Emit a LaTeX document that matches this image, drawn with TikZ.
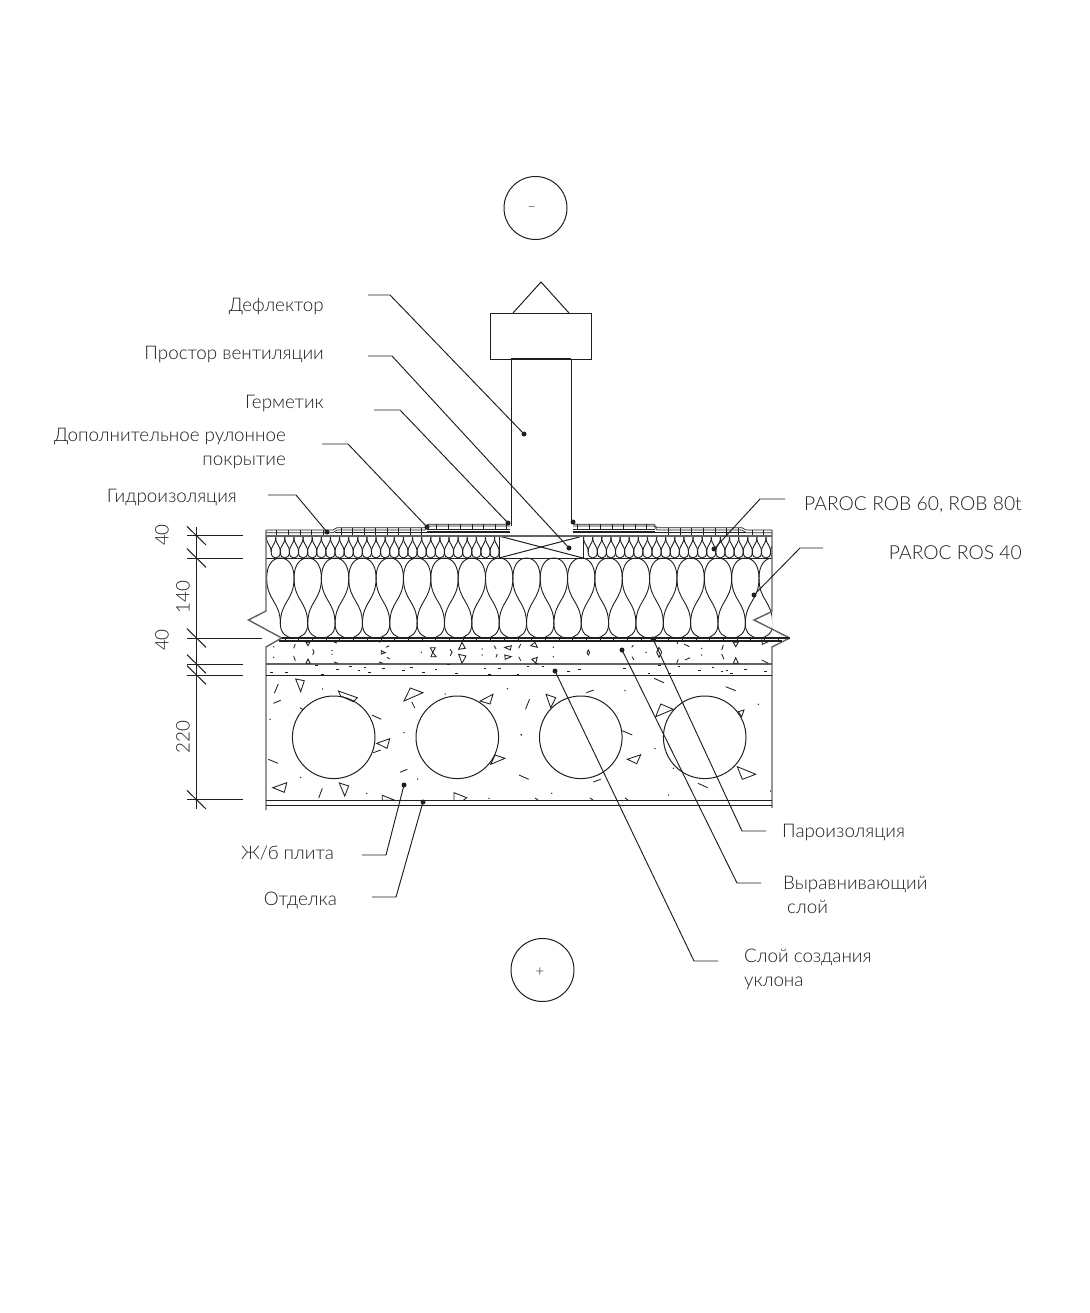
\documentclass[tikz,border=0pt]{standalone}
\usepackage{fontspec}
\setmainfont{Lato Light}
\usetikzlibrary{positioning,calc}
\colorlet{wallgray}{black!62}
\definecolor{ink}{gray}{0.12}

% one row of batt insulation: x0, period, count, ytop, yupper, ylower, ybottom
\newcommand{\battrow}[7]{%
\foreach \n in {1,...,#3} {
\pgfmathsetmacro{\xa}{#1+#2*(\n-1)}
\pgfmathsetmacro{\xm}{\xa+0.5*#2}
\pgfmathsetmacro{\xb}{\xa+#2}
\pgfmathsetmacro{\xc}{\xa+1.5*#2}
\draw[batt] (\xa,#5) .. controls (\xa,{#5-0.62*(#5-#4)}) and ({\xa+0.2*#2},#4) .. (\xm,#4) .. controls ({\xb-0.2*#2},#4) and (\xb,{#5-0.62*(#5-#4)}) .. (\xb,#5);
\draw[batt] (\xa,#5) .. controls (\xa,{#5+0.5*(#6-#5)}) and (\xm,{#6-0.5*(#6-#5)}) .. (\xm,#6);
\draw[batt] (\xb,#5) .. controls (\xb,{#5+0.5*(#6-#5)}) and (\xm,{#6-0.5*(#6-#5)}) .. (\xm,#6);
\draw[batt] (\xm,#6) .. controls (\xm,{#6+0.62*(#7-#6)}) and ({\xm+0.2*#2},#7) .. (\xb,#7) .. controls ({\xc-0.2*#2},#7) and (\xc,{#6+0.62*(#7-#6)}) .. (\xc,#6);
}}

\begin{document}
\begin{tikzpicture}[x=1pt,y=-1pt,
line/.style={draw=ink, line width=1pt},
batt/.style={line, line width=0.9pt},
wall/.style={draw=wallgray, line width=1.4pt},
heavy/.style={draw=wallgray, line width=1.8pt},
thin/.style={draw=ink, line width=0.65pt},
debris/.style={draw=ink, line width=0.85pt, line join=miter},
label/.style={font=\fontsize{18.8}{22}\selectfont, text=ink, inner sep=0pt},
latin/.style={font=\fontsize{19.3}{22}\selectfont, text=ink, inner sep=0pt},
size/.style={font=\fontsize{18.8}{22}\selectfont, text=ink, inner sep=0pt, rotate=90},
axis/.style={circle, draw=ink, line width=1pt, minimum size=63pt, inner sep=0pt},
sign/.style={font=\fontsize{15}{16}\selectfont, text=ink, inner sep=0pt},
leader/.style={draw=ink, line width=0.95pt},
dot/.style={circle, fill=ink, minimum size=5pt, inner sep=0pt}]

\path[use as bounding box] (0,0) rectangle (1089,1313);

% AXIS MARKS

\node [axis] (axistop) at (535.5,208) {};
\node [sign] (signtop) at (531.7,209.5) {--};
\node [axis] (axisbottom) at (542.5,970) {};
\node [sign] (signbottom) at (540,972.5) {+};

% DEFLECTOR

\draw[line] (513,313) -- (541,282) -- (569,313);
\draw[line] (490,313) rectangle (591.5,359);
\draw[line] (511,526) -- (511,359);
\draw[line] (571,523) -- (571,359);
\draw[line, line width=1.4pt] (511,359) -- (571,359);

% VENT BOX

\draw[line] (499,536) -- (499,558);
\draw[line] (583,536) -- (583,558);
\draw[line] (499,536) -- (583,558);
\draw[line] (499,558) -- (583,536);

% INSULATION

\begin{scope}
\clip (266,536) rectangle (499,559);
\battrow{266.6}{9.12}{26}{534}{537.5}{552}{558}
\end{scope}
\begin{scope}
\clip (583,536) rectangle (772,559);
\battrow{583.6}{9.12}{21}{534}{537.5}{552}{558}
\end{scope}
\begin{scope}
\clip (266,556) rectangle (772,640);
\battrow{266.7}{27.35}{19}{558}{578}{624}{638}
\end{scope}
\draw[line] (266,558) -- (772,558);

% ROOFING

\draw[thin] (266,530) -- (333,530) -- (337,527.7) -- (425,527.7) -- (428,524.3) -- (510,524.3);
\draw[thin] (266,532.7) -- (333,532.7) -- (337,530) -- (425,530) -- (428,526) -- (510,526);
\draw[thin] (335,532.7) -- (510,532.7);
\draw[line, line width=1.5pt] (427,529.3) -- (510,529.3);
\draw[thin] (427,531) -- (510,531);
\draw[thin] (772,530) -- (746,530) -- (742,527.7) -- (657,527.7) -- (654,524.3) -- (573,524.3);
\draw[thin] (772,532.7) -- (746,532.7) -- (742,530) -- (657,530) -- (654,526) -- (573,526);
\draw[thin] (746,532.7) -- (573,532.7);
\draw[line, line width=1.5pt] (655,529.3) -- (573,529.3);
\draw[thin] (655,531) -- (573,531);
\draw[heavy] (266,536) -- (772,536);
\foreach \x in {276,288,300,311,323} \draw[thin] (\x,530) -- (\x,535);
\foreach \x in {341,352,364,375,387,398,410,421} \draw[thin] (\x,527.7) -- (\x,535);
\foreach \x in {436,448,460,472,483,495,506} \draw[thin] (\x,524.3) -- (\x,529);
\foreach \x in {577,589,600,612,623,635,646} \draw[thin] (\x,524.3) -- (\x,529);
\foreach \x in {668,680,691,703,715,726,738} \draw[thin] (\x,527.7) -- (\x,535);
\foreach \x in {752,763} \draw[thin] (\x,530) -- (\x,535);

% WALLS AND LAYERS

\draw[wall] (266,530) -- (266,611) -- (248.5,620) -- (281.7,638);
\draw[wall] (281.7,638) -- (266,647) -- (266,810);
\draw[wall] (772,530) -- (772,611.5) -- (754,620) -- (789.7,638);
\draw[wall] (789.7,638) -- (772,647) -- (772,808);
\draw[line, line width=1.1pt] (281.7,638) -- (789.7,638);
\draw[line, line width=1.1pt] (279,641) -- (782,641);
\foreach \n in {0,...,36} \draw[thin] ({285+13.7*\n},638) -- ({285+13.7*\n},641);
\draw[heavy] (266,664) -- (772,664);
\draw[line] (266,675) -- (772,675);
\draw[line] (266,800.3) -- (772,800.3);
\draw[line] (266,805.7) -- (772,805.7);

% HOLLOW CORES

\foreach \x [count=\i] in {333.7,457.3,580.8,704.7}
  \node [circle, draw=ink, line width=1pt, minimum size=82.6pt, inner sep=0pt] (core\i) at (\x,737.3) {};

% DEBRIS

\foreach \ax/\ay/\bx/\by/\cx/\cy in {
295.7/679/304.3/680.7/300.7/691.7, 376.7/743.3/389.7/738.7/387/748.3, 272.7/787.7/286.7/782.7/284.3/792.3,
339.3/783/348.7/786/344.7/796, 404/701/410.3/688/423/692.7, 480/701/493/694.3/490/704,
495/755/505/758.3/490.7/764.3, 382.3/795.3/395/800.3/382.3/800.3, 546/694.3/555.7/697.7/550.7/707.7,
655.7/716.7/660.7/704/673.3/709.3, 627.3/759.3/640.7/754.7/636.7/763.7, 737.3/766.7/755.7/774.3/742.3/779.3,
738.3/711.7/744/710/741.7/716.7, 306/642.3/309.7/642.3/308/645.7, 306/663.3/308/659/310.3/663.3,
381.3/650.7/385.3/652.7/381.3/654, 458.7/649.3/462/642.3/465.3/648.3, 458.7/654.3/466/656/462/663.3,
504.7/647.3/511.3/645.7/510.3/650, 504.7/655/511.3/656.7/505.3/659.3, 530.7/645.7/535/642.3/537.3/647.3,
531.7/659.3/537.3/657.3/535.7/663.3, 733.3/642.3/738.3/642.3/735.7/646.7, 733.3/663.3/735.7/657.7/738.3/663.3,
761.7/640/768.3/641.7/762.3/644.3}
  \draw[debris] (\ax,\ay) -- (\bx,\by) -- (\cx,\cy) -- cycle;

\draw[debris] (338.3,691) -- (357.3,697.7) -- (353.3,701.7) -- (340.7,696) -- cycle;
\draw[debris] (454,800.3) -- (454,792.7) -- (466.7,797.7) -- (463.3,800.3);
\draw[debris] (588.3,650) -- (589.7,652.7) -- (588.3,655) -- (587,652.7) -- cycle;
\draw[debris] (659,647.3) -- (661.7,652.3) -- (659,657.3) -- (656.7,652.3) -- cycle;
\draw[debris] (430.3,647.7) -- (435.3,647.7) -- (432.7,652.3) -- (436,656.7) -- (431,656.7) -- (432.7,652.3) -- cycle;
\draw[debris] (312.7,649.3) -- (314,652) -- (312.7,655);
\draw[debris] (450.3,649.3) -- (452,652.3) -- (450.3,655.7);

\foreach \ax/\ay/\bx/\by in {
278.3/684/274.3/693.3, 273.3/703.3/280.7/700.3, 300/707.7/303.3/709.7, 371.7/715/381.3/719.3,
268.3/759.3/278/763.3, 373.3/752.7/380.7/750, 322.3/788.3/318.7/798, 400/772.3/407.3/769.3,
411.7/701.7/415/708.3, 519/775/528.7/779.3, 529.5/699.3/525.5/709.3, 586.3/692.7/593.7/690,
622.3/730.7/632.3/735, 593.3/782/600.7/779.3, 654/678.3/664/682.7, 725.7/686.7/735.7/690.7,
698/783.3/707.7/787.7, 295.3/644/293.7/648.3, 293.7/656/295.3/660.7, 334/642/337/643,
334/662/338/663.3, 386/647.3/389.3/645.7, 387/657.3/389.7/659, 379/642.3/381.3/641,
379/662/383/663.3, 494.3/645.7/496/649, 496/657.3/497.3/654, 520.7/644/518.7/648.3,
518.7/656.7/520.7/660.7, 633.3/645/631.7/647.3, 632/656.7/634/660, 676.7/641/677.7/644,
684/644/689.3/646.7, 685/660/690/657.7, 676.7/663.3/678.3/659.3, 723.3/645/721.7/650,
721.7/654/724/659.3, 761.7/660/768.3/663.3, 535/663/538/664, 535/798/538/800, 590/798/593/800, 625/798/628/800}
  \draw[debris] (\ax,\ay) -- (\bx,\by);

% specks
\foreach \x/\y in {
322.7/689, 270/719.3, 300.7/777.3, 366.7/793.3, 404/732.7, 417.7/779, 445/694, 507.3/688.7, 521/734.7, 489/798.3,
625/690.7, 521.7/735, 551.7/793.3, 655/748.7, 758.3/704.3, 668.7/795, 673.3/768.3, 770.7/791,
273.7/646.7, 273.7/657.3, 332/650.7, 332/654, 421.3/652.3, 482/649, 482/655, 553.3/647.3, 553.3/656.7, 646/652.3, 701.7/648.3, 701.7/655}
  \fill[ink] (\x,\y) circle (0.75pt);

\foreach \x/\y in {
270.3/672.7, 285.3/672.3, 321.3/674.3, 315.3/665, 336/669, 349.3/666.7, 357.7/670, 363.7/667.7, 368/672.7, 382/668.3,
402/670, 410.3/667.3, 422/672.3, 434.7/669, 455.3/673.3, 447/664.3, 483.7/668.3, 498/668.3, 488/674.3,
516.7/674.3, 526.7/666.7, 541.7/666, 567.3/671.3, 578.3/669, 623.3/668.3, 647.7/673.3, 658.3/665.7, 668.3/673.3, 677.7/666,
698.3/670, 711.7/667.3, 720.7/671.3, 725.7/670.7, 730/673.3, 744.3/669, 764/671.7}
  \draw[debris] (\x,\y) -- ++(2.6,0);

% DIMENSIONS

\draw[line] (196.5,527) -- (196.5,809);
\foreach \y/\xend in {535.7/243, 558/243, 638/261.5, 664/243, 675/243, 799.7/243} {
  \draw[line] (187,\y) -- (\xend,\y);
  \draw[line] (187,{\y-9.3}) -- (206,{\y+9.3});
}
\node [size] (dimone) at (162,535) {40};
\node [size] (dimtwo) at (183,597) {140};
\node [size] (dimthree) at (162,640) {40};
\node [size] (dimfour) at (183,737) {220};

% LABELS

\node [label, anchor=east] (deflector) at (324,307) {Дефлектор};
\node [label, anchor=east] (ventspace) at (324,355) {Простор вентиляции};
\node [label, anchor=east] (sealant) at (324,404) {Герметик};
\node [label, anchor=east] (extracover) at (286,437) {Дополнительное рулонное};
\node [label, anchor=east] (extracovertwo) at (286,462) {покрытие};
\node [label, anchor=east] (waterproof) at (237,498) {Гидроизоляция};
\node [latin, anchor=east] (parocrob) at (1022,505) {PAROC ROB 60, ROB 80t};
\node [latin, anchor=east] (parocros) at (1022,553) {PAROC ROS 40};
\node [label, anchor=west] (vapor) at (782,833) {Пароизоляция};
\node [label, anchor=west] (levelling) at (783,885) {Выравнивающий};
\node [label, anchor=west] (levellingtwo) at (787,907) {слой};
\node [label, anchor=west] (slope) at (744,957) {Слой создания};
\node [label, anchor=west] (slopetwo) at (744,983) {уклона};
\node [label, anchor=east] (slab) at (334,853) {Ж/б плита};
\node [label, anchor=east] (finish) at (337,900) {Отделка};

% LEADERS

\foreach \name/\fx/\fy/\kx/\dx/\dy in {
deflector/368/295/390/524/434,
ventspace/368/356/392/569/548,
sealant/374/410/400/508/523,
extracover/322/444/348/427/527,
waterproof/268/495/296/327/532,
parocrob/785/499/760/714/549,
parocros/823/548/800/754/595,
vapor/766/831/742/653/639,
levelling/761/883/737/622/650,
slope/718/961/694/555/671,
slab/362/855/386/404/785,
finish/372/897/396/423/802} {
  \coordinate (\name from) at (\fx,\fy);
  \node [dot] (\name dot) at (\dx,\dy) {};
  \draw[leader] (\name from) -- (\kx,\fy) -- (\name dot.center);
}
\node [dot] (sealantright) at (573,522) {};

\end{tikzpicture}
\end{document}
